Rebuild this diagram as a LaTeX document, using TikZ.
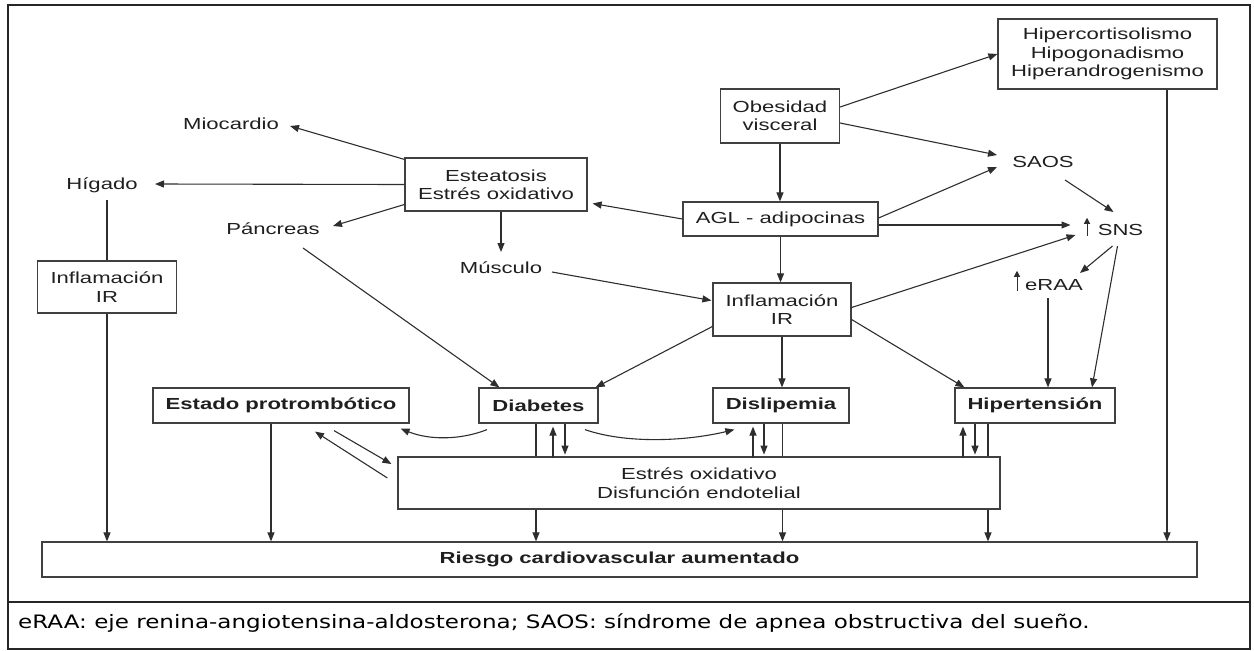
\documentclass[tikz,border=0pt]{standalone}
\usepackage{fontspec}
\setmainfont{Liberation Sans}[FakeStretch=1.38]
\newfontfamily\notefont{DejaVu Sans}[FakeStretch=1.245]
\usetikzlibrary{arrows.meta,calc}
\begin{document}
\begin{tikzpicture}[x=1pt,y=-1pt,
  txt/.style={font=\fontsize{16}{18.4}\selectfont, text=black!88},
  box/.style={txt, draw=black!75, line width=1.2pt, fill=white, align=center, inner sep=0pt},
  bbox/.style={box, font=\fontsize{16}{18.4}\selectfont\bfseries},
  lbl/.style={txt, inner sep=0pt, text height=11.5pt, text depth=0pt},
  conn/.style={draw=black!82, line width=1.1pt},
  arr/.style={conn, -{Triangle[length=9pt,width=7pt]}},
  uparr/.style={conn, line width=1pt, -{Triangle[length=6pt,width=6pt]}},
]
\useasboundingbox (0,0) rectangle (1254,651);
% frame
\draw[line width=2pt, black!85] (8,5) rectangle (1250,649);
\draw[line width=2pt, black!85] (8,602) -- (1250,602);

% boxes
\node[box, minimum width=219, minimum height=70] (hiper) at (1107.5,54) {Hipercortisolismo\\Hipogonadismo\\Hiperandrogenismo};
\node[box, minimum width=119, minimum height=54] (obes) at (780,116) {Obesidad\\visceral};
\node[box, minimum width=182, minimum height=53] (este) at (496,184.5) {Esteatosis\\Estrés oxidativo};
\node[box, minimum width=195, minimum height=34] (agl) at (780.5,219) {AGL - adipocinas};
\node[box, minimum width=138, minimum height=53] (infl) at (782,309.5) {Inflamación\\IR};
\node[box, minimum width=139, minimum height=52] (infl2) at (107,287) {Inflamación\\IR};
\node[bbox, minimum width=256, minimum height=35] (prot) at (281,405.5) {Estado protrombótico};
\node[bbox, minimum width=119, minimum height=35] (diab) at (538.5,405.5) {Diabetes};
\node[bbox, minimum width=136, minimum height=35] (disl) at (781,405.5) {Dislipemia};
\node[bbox, minimum width=160, minimum height=35] (hipt) at (1035,405.5) {Hipertensión};
\node[box, minimum width=602, minimum height=52] (estres) at (699,483) {Estrés oxidativo\\Disfunción endotelial};
\node[bbox, minimum width=1155, minimum height=35] (riesgo) at (619.5,559.5) {Riesgo cardiovascular aumentado};

% free labels
\node[lbl] (mioc) at (231,124) {Miocardio};
\node[lbl] (higado) at (102,184) {Hígado};
\node[lbl] (panc) at (273,229) {Páncreas};
\node[lbl] (musc) at (501,268) {Músculo};
\node[lbl] (saos) at (1043,162) {SAOS};
\node[lbl] (sns) at (1120.5,230) {SNS};
\node[lbl] (eraa) at (1054,285) {eRAA};
\draw[uparr] ($(sns.base)+(-33.5,0)$) -- ++(0,-18);
\draw[uparr] ($(eraa.base)+(-37,0)$) -- ++(0,-20);

% footnote
\node[anchor=base west, inner sep=0pt, text=black, font=\notefont\fontsize{18.5}{20}\selectfont] (nota) at (18,628) {eRAA: eje renina-angiotensina-aldosterona; SAOS: síndrome de apnea obstructiva del sueño.};

% connectors (top)
\draw[arr] ($(obes.east)+(0,-9)$) -- (hiper.west);
\draw[arr] ($(obes.east)+(0,7)$) -- ($(saos)+(-46,-7)$);
\draw[arr] ($(agl.east)+(0,-1)$) -- ($(saos)+(-46,5)$);
\draw[arr] ($(saos)+(22,18)$) -- ($(sns)+(-7,-18)$);
\draw[arr] ($(agl.east)+(0,6)$) -- ($(sns)+(-50,-5)$);
\draw[arr] ($(infl.east)+(0,-2)$) -- ($(sns)+(-45,5)$);
\draw[arr] ($(sns)+(-8,16)$) -- ($(eraa)+(26,-12)$);
\draw[arr] ($(sns)+(-3,16)$) -- ($(hipt.north)+(57,0)$);
\draw[arr] ($(eraa)+(-6,13)$) -- ($(hipt.north)+(13,0)$);
\draw[arr] ($(infl.east)+(0,10)$) -- ($(hipt.north west)+(10,0)$);
\draw[arr] (infl.south) -- (infl.south |- disl.north);
\draw[arr] ($(infl.west)+(0,17)$) -- ($(diab.north east)+(-3,0)$);
\draw[arr] ($(panc)+(30,19)$) -- ($(diab.north west)+(21,0)$);
\draw[arr] ($(musc)+(51,4)$) -- ($(infl.west)+(-1,-9)$);
\draw[arr] (agl.south) -- (agl.south |- infl.north);
\draw[arr] (obes.south) -- (obes.south |- agl.north);
\draw[arr] (agl.west) -- ($(este.east)+(5,19)$);
\draw[arr] ($(este.north west)+(0,2)$) -- ($(mioc)+(59,2)$);
\draw[arr] (este.west) -- ($(higado)+(53,0)$);
\draw[arr] ($(este.west)+(0,20)$) -- ($(panc)+(60,-3)$);
\draw[arr] (musc |- este.south) -- ($(musc)+(0,-16)$);

% left column
\draw[conn] ($(higado.south)+(5,10)$) -- (infl2.north);
\draw[arr] (infl2.south) -- (infl2.south |- riesgo.north);
\coordinate (p1) at ($(prot.south)+(-10,0)$);
\draw[arr] (p1) -- (p1 |- riesgo.north);
\coordinate (h1) at ($(hiper.south)+(59.5,0)$);
\draw[arr] (h1) -- (h1 |- riesgo.north);

% lines through estres box
\coordinate (d1) at ($(diab.south)+(-2.5,0)$);
\coordinate (d2) at ($(disl.south)+(1.5,0)$);
\coordinate (d3) at ($(hipt.south)+(-47,0)$);
\foreach \c in {d1,d2,d3} {
  \draw[conn] (\c) -- (\c |- estres.north);
  \draw[arr] (\c |- estres.south) -- (\c |- riesgo.north);
}

% up / down arrows between problems and estres
\coordinate (u1) at ($(diab.south)+(14.5,0)$);
\coordinate (v1) at ($(diab.south)+(26.5,0)$);
\coordinate (u2) at ($(disl.south)+(-28,0)$);
\coordinate (v2) at ($(disl.south)+(-17,0)$);
\coordinate (u3) at ($(hipt.south)+(-72,0)$);
\coordinate (v3) at ($(hipt.south)+(-60,0)$);
\foreach \u in {u1,u2,u3} { \draw[arr] ($(\u)+(0,34)$) -- ($(\u)+(0,3)$); }
\foreach \v in {v1,v2,v3} { \draw[arr] (\v) -- ($(\v)+(0,31)$); }

% protrombotico <-> estres
\draw[arr] ($(prot.south)+(53,7)$) -- ($(estres.west)+(-6,-19)$);
\draw[arr] ($(estres.west)+(-10,-5)$) -- ($(prot.south)+(34,8)$);

% curved arrows from diabetes
\draw[arr] ($(diab.south)+(-51.5,6)$) .. controls +(-25,10) and +(30,12) .. ($(prot.south east)+(-9,5)$);
\draw[arr] ($(diab.south)+(46.5,6)$) .. controls +(40,14) and +(-50,12) .. ($(disl.south west)+(22,6)$);
\end{tikzpicture}
\end{document}
